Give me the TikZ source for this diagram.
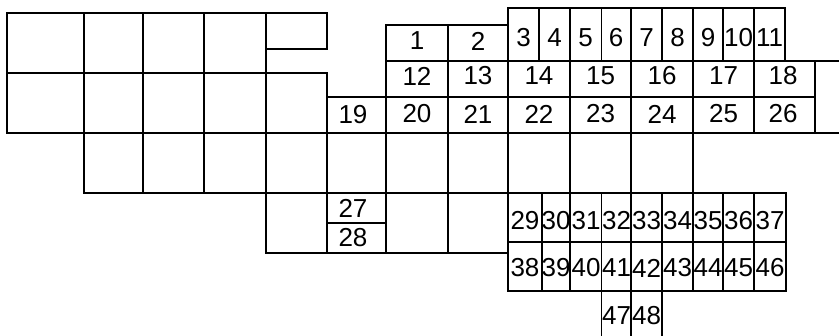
\documentclass[tikz,border=0pt]{standalone}
\usepackage{fontspec}
\setmainfont{Liberation Sans}
\tikzset{
    feld/.style={inner sep=0pt, font=\fontsize{26}{31}\selectfont},
    wand/.style={line width=1.3pt, line cap=rect}
}
\begin{document}
\begin{tikzpicture}[x=1pt,y=-1pt]
    \useasboundingbox (0,0) rectangle (839,336);
    \draw[wand] (7,13) -- (327,13) (266,49) -- (327,49) (7,73) -- (327,73)
        (508,8) -- (785,8) (386,25) -- (508,25) (386,61) -- (839,61)
        (327,97) -- (815,97) (7,133) -- (839,133) (84,193) -- (786,193)
        (327,223) -- (386,223) (508,242) -- (786,242) (266,253) -- (508,253)
        (508,291) -- (786,291);
    \draw[wand] (7,13) -- (7,133) (84,13) -- (84,193) (143,13) -- (143,193)
        (204,13) -- (204,193) (266,13) -- (266,253) (327,13) -- (327,49)
        (327,73) -- (327,253) (386,25) -- (386,253) (448,25) -- (448,253)
        (508,8) -- (508,291) (539,8) -- (539,61) (542,193) -- (542,291)
        (570,8) -- (570,291) (601.5,8) -- (601.5,61) (601.5,193) -- (601.5,336)
        (631,8) -- (631,336) (662,8) -- (662,61) (662,193) -- (662,336)
        (693,8) -- (693,291) (723,8) -- (723,61) (723,193) -- (723,291)
        (754,8) -- (754,133) (754,193) -- (754,291) (785,8) -- (785,61)
        (786,193) -- (786,291) (815,61) -- (815,133);
    \path node[feld] (n1) at (417,41) {1}
        node[feld] (n2) at (478,41) {2}
        node[feld] (n3) at (523.5,37.5) {3}
        node[feld] (n4) at (554.5,37.5) {4}
        node[feld] (n5) at (585.5,37.5) {5}
        node[feld] (n6) at (616,37.5) {6}
        node[feld] (n7) at (646.5,37.5) {7}
        node[feld] (n8) at (677.5,37.5) {8}
        node[feld] (n9) at (708,37.5) {9}
        node[feld] (n10) at (738.5,37.5) {10}
        node[feld] (n11) at (769.5,37.5) {11}
        node[feld] (n12) at (417,76) {12}
        node[feld] (n13) at (478,76) {13}
        node[feld] (n14) at (539,76) {14}
        node[feld] (n15) at (600.5,76) {15}
        node[feld] (n16) at (662,76) {16}
        node[feld] (n17) at (723.5,76) {17}
        node[feld] (n18) at (783,76) {18}
        node[feld] (n19) at (353,115) {19}
        node[feld] (n20) at (417,114) {20}
        node[feld] (n21) at (478,114) {21}
        node[feld] (n22) at (539,114) {22}
        node[feld] (n23) at (600.5,114) {23}
        node[feld] (n24) at (662,114) {24}
        node[feld] (n25) at (723.5,114) {25}
        node[feld] (n26) at (783,114) {26}
        node[feld] (n27) at (353,208.5) {27}
        node[feld] (n28) at (353,237.5) {28};
    \path node[feld] (n29) at (525,221) {29}
        node[feld] (n30) at (556,221) {30}
        node[feld] (n31) at (586,221) {31}
        node[feld] (n32) at (616.5,221) {32}
        node[feld] (n33) at (646.5,221) {33}
        node[feld] (n34) at (677.5,221) {34}
        node[feld] (n35) at (708,221) {35}
        node[feld] (n36) at (738.5,221) {36}
        node[feld] (n37) at (770,221) {37}
        node[feld] (n38) at (525,268) {38}
        node[feld] (n39) at (556,268) {39}
        node[feld] (n40) at (586,268) {40}
        node[feld] (n41) at (616.5,268) {41}
        node[feld] (n42) at (646.5,268) {42}
        node[feld] (n43) at (677.5,268) {43}
        node[feld] (n44) at (708,268) {44}
        node[feld] (n45) at (738.5,268) {45}
        node[feld] (n46) at (770,268) {46}
        node[feld] (n47) at (616.5,316) {47}
        node[feld] (n48) at (646.5,316) {48};
\end{tikzpicture}
\end{document}
